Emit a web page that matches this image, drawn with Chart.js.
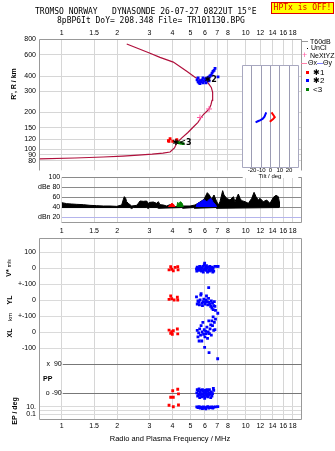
<html>
<head>
<script src="https://cdn.jsdelivr.net/npm/chart.js@4.4.0/dist/chart.umd.min.js"></script>
<style>
  body { margin: 0; background: #fff; width: 335px; height: 451px; overflow: hidden; position: relative;
         font-family: 'Liberation Sans', Arial, sans-serif; color: #000; }
  canvas { position: absolute; }
  .t { position: absolute; white-space: nowrap; line-height: 8px; font-size: 7px; }
  .mono { font-family: 'DejaVu Sans Mono', monospace; font-size: 8px; line-height: 9px; white-space: pre; }
  .rot { position: absolute; white-space: nowrap; transform: translate(-50%, -50%) rotate(-90deg); font-size: 7px; font-weight: bold; line-height: 8px; }
  .sw { position: absolute; }
</style>
</head>
<body>
<canvas id="heightChart" width="335" height="178" style="left:0;top:0"></canvas>
<canvas id="dbChart" width="335" height="70" style="left:0;top:170px"></canvas>
<canvas id="lowChart" width="335" height="221" style="left:0;top:230px"></canvas>
<canvas id="tiltChart" width="66" height="122" style="left:236px;top:60px"></canvas>

<div class="t mono" style="left:35px;top:7px">TROMSO NORWAY   DYNASONDE 26-07-27 0822UT 15°E</div>
<div class="t mono" style="left:57px;top:16px">8pBP6It DoY= 208.348 File= TR101130.BPG</div>
<div class="t mono" style="left:271px;top:2px;width:61px;height:10px;line-height:10px;background:#ffff00;border:1px solid #e00000;color:#e00000;text-align:center">HPTx is OFF!</div>

<!-- legend -->
<div class="sw" style="left:302px;top:41px;width:6px;height:1px;background:#999"></div>
<div class="t" style="left:310px;top:38px">T60dB</div>
<div class="sw" style="left:307px;top:48px;width:1px;height:1px;background:#000"></div>
<div class="t" style="left:311px;top:44px">UnCl</div>
<div class="t" style="left:302px;top:51px;color:#ff5aa0;font-size:9px">+</div>
<div class="t" style="left:310px;top:52px">NeXtYZ</div>
<div class="sw" style="left:301px;top:63px;width:6px;height:1px;background:#ff80a8"></div>
<div class="t" style="left:308px;top:59px">Θx</div>
<div class="sw" style="left:317px;top:63px;width:6px;height:1px;background:#8080ff"></div>
<div class="t" style="left:323px;top:59px">Θy</div>
<div class="sw" style="left:306px;top:71px;width:3px;height:3px;background:#ff0000"></div>
<div class="t" style="left:313px;top:69px;font-size:8px">✱1</div>
<div class="sw" style="left:306px;top:79px;width:3px;height:3px;background:#0000ff"></div>
<div class="t" style="left:313px;top:77px;font-size:8px">✱2</div>
<div class="sw" style="left:306px;top:88px;width:3px;height:3px;background:#008000"></div>
<div class="t" style="left:313px;top:86px;font-size:8px">&lt;3</div>

<!-- axis titles -->
<div class="rot" style="left:14px;top:84px">R', R / km</div>
<div class="rot" style="left:9px;top:268px">V* <span style="font-size:5px;font-weight:normal">m/s</span></div>
<div class="rot" style="left:9.5px;top:300px">YL</div>
<div class="rot" style="left:10px;top:317px;font-size:6px;font-weight:normal">km</div>
<div class="rot" style="left:9.5px;top:333px">XL</div>
<div class="t" style="left:43px;top:375px;font-weight:bold">PP</div>
<div class="rot" style="left:15px;top:411px">EP / deg</div>
<div class="t" style="left:270px;top:172px;font-size:6px;transform:translateX(-50%)">Tilt / deg</div>
<div class="t" style="left:170px;top:435px;font-size:7.5px;transform:translateX(-50%)">Radio and Plasma Frequency / MHz</div>

<script>
    // frequency axis (shared by all panels)
    var freqTicks = [1, 1.5, 2, 3, 4, 5, 6, 7, 8, 10, 12, 14, 16, 18];
    var freqTickLabels = ['1', '1.5', '2', '3', '4', '5', '6', '7', '8', '10', '12', '14', '16', '18'];

    // height panel
    var heightTicks = [80, 90, 100, 120, 150, 200, 300, 400, 600, 800];
    var profileFreq = [0.757, 1.18, 1.68, 2.15, 2.60, 3.10, 3.55, 3.88, 4.10, 4.22, 4.48, 4.85, 5.19, 5.50, 5.72, 5.90, 6.15, 6.35, 6.47, 6.56, 6.60, 6.62, 6.50, 6.25, 5.95, 5.64, 5.30, 4.78, 4.04, 3.42, 3.02, 2.256];
    var profileHeight = [82.9, 84.4, 86.0, 87.5, 89.1, 90.7, 92.5, 94.5, 102, 112, 123, 137, 152, 166, 182, 193, 205, 216, 232, 252, 269, 294, 322, 350, 362, 374, 391, 437, 521, 570, 616, 734];
    var markFreq = [6.32, 5.64];
    var markHeight = [214, 182];
    var blueEchoFreq = [5.44, 5.51, 5.58, 5.64, 5.72, 5.79, 5.86, 5.93, 6.01, 6.08, 6.16, 6.24, 6.32, 6.40, 6.48, 6.56, 6.64, 6.73, 6.81, 7.07, 5.51, 5.64, 5.86, 6.08, 6.32];
    var blueEchoHeight = [372, 359, 352, 365, 359, 372, 352, 365, 379, 372, 386, 379, 393, 400, 407, 422, 437, 445, 462, 393, 386, 346, 386, 352, 365];
    var redEchoFreq = [3.88, 3.80, 4.01, 4.22, 3.83];
    var redEchoHeight = [122, 117, 116, 119.5, 116];
    var greenEchoFreq = [4.29, 4.37, 4.45, 4.56];
    var greenEchoHeight = [113, 112.5, 112, 111];
    var echoLabelFreq = [5.97, 4.00];
    var echoLabelHeight = [369, 112.3];
    var echoLabelText = ['✱2', '✱<3'];

    // amplitude panel
    var dbTicks = [20, 40, 60, 80, 100];
    var dbTickLabels = ['dBn 20', '40', '60', 'dBe 80', '100'];
    var dbFreq = [1.00, 1.064, 1.133, 1.206, 1.311, 1.425, 1.549, 1.684, 1.830, 1.989, 2.118, 2.163, 2.190, 2.227, 2.254, 2.302, 2.400, 2.555, 2.609, 2.664, 2.777, 2.895, 2.956, 3.019, 3.148, 3.282, 3.351, 3.422, 3.567, 3.719, 3.877, 4.128, 4.583, 4.982, 5.303, 5.644, 5.933, 6.186, 6.343, 6.531, 6.725, 6.896, 7.100, 7.249, 7.495, 7.621, 7.880, 8.217, 8.567, 8.747, 9.120, 9.311, 9.509, 9.913, 10.34, 10.78, 11.10, 11.38, 11.71, 11.96, 12.46, 13.00, 13.55, 14.13, 14.61, 15.04, 15.23, 15.25];
    var dbTop = [49.3, 47.3, 46.6, 45.9, 45.3, 43.9, 43.3, 42.6, 42.6, 41.9, 44.6, 55.9, 61.3, 57.9, 51.3, 47.9, 42.6, 43.9, 47.9, 52.6, 51.9, 52.6, 47.9, 49.9, 50.6, 47.9, 51.3, 45.3, 44.6, 42.6, 45.3, 41.3, 42.6, 42.6, 44.6, 50.6, 55.9, 69.3, 64.6, 55.9, 64.6, 54.6, 44.6, 51.3, 73.3, 64.6, 57.9, 54.6, 61.3, 51.3, 66.6, 57.9, 53.3, 51.3, 47.9, 57.9, 69.9, 61.3, 54.6, 57.9, 51.3, 54.6, 47.9, 59.9, 63.9, 61.3, 51.3, 40.5];
    var dbLowFreq = [1.0, 2.35, 2.40, 2.45, 2.90, 2.95, 3.00, 3.30, 3.35, 4.50, 4.55, 5.20, 5.25, 6.90, 6.95, 15.25];
    var dbLow = [39.5, 39.5, 37.5, 39.5, 39.5, 37.5, 39.5, 39.5, 38, 39.5, 38, 39.5, 38, 39.5, 38, 39.5];
    var dbRedFreq = [3.80, 3.86, 3.92, 3.98, 4.05, 4.13];
    var dbRed = [41, 44, 46.6, 48, 46, 41];
    var dbGreenFreq = [4.22, 4.27, 4.33, 4.40, 4.47, 4.53, 4.58];
    var dbGreen = [41, 50, 46, 51, 50, 47, 41];
    var dbBlueFreq = [5.37, 5.45, 5.55, 5.65, 5.75, 5.85, 5.95, 6.05, 6.15, 6.25, 6.35, 6.45, 6.55, 6.65, 6.75, 6.85, 6.96];
    var dbBlue = [41, 47, 49, 50, 52, 54, 55, 53, 51, 54, 56, 58, 55, 50, 48, 45, 41];

    // lower panel (V*, YL, XL, PP, EP stacked on one scale)
    var lowTicks = [100, 0, -100, -200, -300, -400, -500, -867, -891, -915];
    var lowTickLabels = ['100', '0', '+-100', '0', '+-100', '0', '-100', '10.', '', '0.1'];
    var refLineValues = [-606, -783];
    var refLineLabels = ['x  90', 'o -90'];
    var redVFreq = [3.83, 3.91, 3.96, 4.04, 4.13, 4.27, 4.29];
    var redV = [-12, 8, -8, -17, 4, 8, -12];
    var redYFreq = [3.91, 3.83, 3.96, 4.08, 4.25, 4.27];
    var redY = [-175, -196, -192, -200, -183, -200];
    var redXFreq = [3.83, 3.96, 4.04, 4.25, 3.99, 4.27, 3.91];
    var redX = [-388, -398, -392, -381, -414, -412, -408];
    var redEFreq = [4.01, 4.27, 4.31, 3.91, 4.04, 3.83, 4.04, 4.31];
    var redE = [-767, -758, -787, -808, -808, -858, -867, -856];
    var blueVFreq = [5.40, 5.42, 5.45, 5.50, 5.55, 5.60, 5.62, 5.65, 5.70, 5.75, 5.80, 5.85, 5.88, 5.90, 5.95, 5.98, 6.00, 6.05, 6.10, 6.12, 6.15, 6.20, 6.25, 6.30, 6.35, 6.38, 6.40, 6.45, 6.50, 6.55, 6.60, 6.62, 6.65, 6.70, 6.80, 7.00, 7.08];
    var blueV = [-5, -20, 5, -10, 0, -15, 10, 5, -5, -20, 0, 10, -25, -10, 20, 30, -5, 5, -15, 15, 0, -25, 5, -10, -20, 10, 0, -5, -15, 5, -10, -25, 0, -20, 10, 10, 10];
    var blueYFreq = [5.40, 5.45, 5.50, 5.55, 5.60, 5.65, 5.70, 5.72, 5.78, 5.82, 5.88, 5.92, 5.98, 6.02, 6.08, 6.12, 6.18, 6.22, 6.28, 6.32, 6.29, 6.40, 6.45, 6.50, 6.55, 6.60, 6.65, 6.70, 6.75, 6.80, 6.85, 7.05];
    var blueY = [-180, -225, -205, -215, -230, -200, -170, -160, -220, -235, -210, -195, -215, -225, -200, -175, -210, -230, -190, -215, -123, -225, -240, -205, -250, -220, -260, -235, -210, -240, -265, -283];
    var blueXFreq = [5.45, 5.50, 5.55, 5.58, 5.62, 5.68, 5.72, 5.77, 5.80, 5.85, 5.90, 5.95, 5.98, 6.00, 6.05, 6.10, 6.15, 6.20, 6.25, 6.32, 6.30, 6.35, 6.40, 6.45, 6.50, 6.55, 6.60, 6.65, 6.70, 6.75, 6.80, 6.85, 7.04];
    var blueX = [-390, -430, -405, -456, -380, -420, -360, -456, -400, -340, -415, -385, -496, -430, -395, -410, -370, -440, -400, -529, -330, -410, -380, -355, -420, -330, -360, -305, -390, -340, -385, -320, -567];
    var blueEFreq = [5.42, 5.45, 5.48, 5.52, 5.55, 5.58, 5.62, 5.65, 5.68, 5.72, 5.75, 5.78, 5.82, 5.85, 5.88, 5.92, 5.95, 5.98, 6.02, 6.05, 6.08, 6.12, 6.15, 6.18, 6.22, 6.25, 6.28, 6.32, 6.35, 6.40, 6.45, 6.50, 6.55, 6.60, 6.70, 6.67,
                      5.42, 5.50, 5.58, 5.66, 5.74, 5.82, 5.90, 5.98, 6.06, 6.14, 6.22, 6.30, 6.38, 6.46, 6.54, 6.62, 6.70, 6.85, 7.05];
    var blueE = [-780, -760, -800, -770, -790, -755, -810, -775, -795, -765, -785, -805, -760, -790, -770, -800, -780, -815, -765, -790, -775, -800, -760, -785, -805, -770, -795, -780, -760, -790, -810, -775, -800, -785, -765, -752,
                 -868, -872, -866, -875, -870, -878, -868, -873, -880, -870, -866, -875, -870, -872, -868, -876, -870, -868, -866];

    // tilt inset
    var tiltTicks = [-20, -10, 0, 10, 20];
    var tiltBlueX = [-16.1, -13.7, -10.8, -8.3, -6.5, -4.6];
    var tiltBlueY = [44.2, 45.2, 46.4, 47.7, 49.7, 53.9];
    var tiltRedX = [1.1, 2.5, 4.6, 2.9, -0.75];
    var tiltRedY = [53.9, 52, 49.1, 47.4, 44.8];


    Chart.defaults.font.family = "'Liberation Sans', Arial, sans-serif";
    Chart.defaults.font.size = 7;
    Chart.defaults.color = '#000';
    Chart.defaults.animation = false;
    Chart.defaults.plugins.legend.display = false;
    Chart.defaults.plugins.tooltip.enabled = false;

    function pts(xs, ys) {
        return xs.map(function (x, i) { return { x: x, y: ys[i] }; });
    }

    function crisp(v) { return Math.round(v - 0.5) + 0.5; }

    // draws the panel borders
    var framePlugin = {
        id: 'frame',
        beforeDatasetsDraw: function (chart, args, opts) {
            var a = chart.chartArea, ctx = chart.ctx, s = opts.sides || '';
            var l = crisp(a.left), r = crisp(a.right), t = crisp(a.top), b = crisp(a.bottom);
            ctx.save();
            ctx.strokeStyle = opts.color || '#999';
            ctx.lineWidth = 1;
            ctx.beginPath();
            if (s.indexOf('l') >= 0) { ctx.moveTo(l, t); ctx.lineTo(l, b); }
            if (s.indexOf('r') >= 0) { ctx.moveTo(r, t); ctx.lineTo(r, b); }
            if (s.indexOf('t') >= 0) { ctx.moveTo(l, t); ctx.lineTo(r, t); }
            if (s.indexOf('b') >= 0) { ctx.moveTo(l, b); ctx.lineTo(r, b); }
            ctx.stroke();
            ctx.restore();
        }
    };

    var echoLabelPlugin = {
        id: 'echoLabels',
        afterDatasetsDraw: function (chart) {
            var ctx = chart.ctx, xs = chart.scales.x, ys = chart.scales.y;
            ctx.save();
            ctx.font = "bold 8px 'DejaVu Sans', sans-serif";
            ctx.fillStyle = '#000';
            ctx.textBaseline = 'middle';
            for (var i = 0; i < echoLabelText.length; i++) {
                ctx.fillText(echoLabelText[i], xs.getPixelForValue(echoLabelFreq[i]), ys.getPixelForValue(echoLabelHeight[i]));
            }
            ctx.restore();
        }
    };

    var refLinePlugin = {
        id: 'refLines',
        beforeDatasetsDraw: function (chart) {
            var ctx = chart.ctx, xs = chart.scales.x, ys = chart.scales.y;
            var x0 = xs.getPixelForValue(1.0);
            ctx.save();
            ctx.strokeStyle = '#777';
            ctx.lineWidth = 1;
            ctx.fillStyle = '#000';
            ctx.font = "7px 'Liberation Sans', Arial, sans-serif";
            ctx.textAlign = 'right';
            ctx.textBaseline = 'middle';
            for (var i = 0; i < refLineValues.length; i++) {
                var y = crisp(ys.getPixelForValue(refLineValues[i]));
                ctx.beginPath();
                ctx.moveTo(x0 + 1, y);
                ctx.lineTo(chart.chartArea.right, y);
                ctx.stroke();
                ctx.fillText(refLineLabels[i], x0, y);
            }
            ctx.restore();
        }
    };

    var whiteBackPlugin = {
        id: 'whiteBack',
        beforeDraw: function (chart) {
            var a = chart.chartArea, ctx = chart.ctx;
            ctx.save();
            ctx.fillStyle = '#fff';
            ctx.fillRect(a.left, a.top, a.right - a.left, chart.height - a.top - 4);
            ctx.restore();
        }
    };

    function freqAxis(min, position, padding, height) {
        return {
            type: 'logarithmic',
            position: position,
            min: min,
            max: 20.15,
            afterBuildTicks: function (s) { s.ticks = freqTicks.map(function (v) { return { value: v }; }); },
            afterFit: function (s) { s.height = height; },
            ticks: {
                callback: function (v, i) { return freqTickLabels[i]; },
                padding: padding, maxRotation: 0, autoSkip: false
            },
            grid: { color: '#d6d6d6', drawTicks: false },
            border: { display: false }
        };
    }

    function squares(data, color) {
        return {
            data: data, pointStyle: 'rect', pointRadius: 2, pointBorderWidth: 0,
            backgroundColor: color, borderColor: color, showLine: false
        };
    }

    function filledTrace(data, color) {
        return {
            data: data, showLine: true, pointRadius: 0, borderWidth: 1,
            borderColor: color, backgroundColor: color, fill: { value: 40.5 }, tension: 0
        };
    }

    // ---- height panel ----
    new Chart(document.getElementById('heightChart'), {
        type: 'scatter',
        data: {
            datasets: [
                { data: pts(markFreq, markHeight), pointStyle: 'cross', pointRadius: 3, borderColor: '#ff5aa0', borderWidth: 1 },
                squares(pts(blueEchoFreq, blueEchoHeight), '#0000ff'),
                squares(pts(greenEchoFreq, greenEchoHeight), '#008000'),
                squares(pts(redEchoFreq, redEchoHeight), '#ff0000'),
                { data: pts(profileFreq, profileHeight), showLine: true, pointRadius: 0, borderColor: '#b0103c', borderWidth: 1.2 }
            ]
        },
        options: {
            responsive: false,
            layout: { padding: { left: 0, right: 33.3, top: 0, bottom: 0.7 } },
            scales: {
                x: freqAxis(0.757, 'top', 2, 39.5),
                y: {
                    type: 'logarithmic', min: 66.8, max: 800,
                    afterBuildTicks: function (s) { s.ticks = heightTicks.map(function (v) { return { value: v }; }); },
                    afterFit: function (s) { s.width = 39.5; },
                    ticks: { callback: function (v, i) { return String(heightTicks[i]); }, padding: 3.5, autoSkip: false },
                    grid: { color: '#d6d6d6', drawTicks: false },
                    border: { display: false }
                }
            },
            plugins: { frame: { sides: 'ltr', color: '#999' } }
        },
        plugins: [framePlugin, echoLabelPlugin]
    });

    // ---- amplitude panel ----
    new Chart(document.getElementById('dbChart'), {
        type: 'scatter',
        data: {
            datasets: [
                filledTrace(pts(dbRedFreq, dbRed), '#ff0000'),
                filledTrace(pts(dbGreenFreq, dbGreen), '#008000'),
                filledTrace(pts(dbBlueFreq, dbBlue), '#0000ff'),
                filledTrace(pts(dbLowFreq, dbLow), '#000'),
                filledTrace(pts(dbFreq, dbTop), '#000')
            ]
        },
        options: {
            responsive: false,
            layout: { padding: { left: 0, right: 33.3, top: 7.3, bottom: 0 } },
            scales: {
                x: freqAxis(1.0, 'bottom', 4.5, 17.7),
                y: {
                    type: 'linear', min: 10, max: 100,
                    afterBuildTicks: function (s) { s.ticks = dbTicks.map(function (v) { return { value: v }; }); },
                    afterFit: function (s) { s.width = 61.7; },
                    ticks: { callback: function (v, i) { return dbTickLabels[i]; }, padding: 1.5, autoSkip: false },
                    grid: {
                        color: function (c) { return c.tick && c.tick.value === 20 ? '#b4b4ec' : '#8a8a8a'; },
                        drawTicks: false
                    },
                    border: { display: false }
                }
            },
            plugins: { frame: { sides: 'rb', color: '#999' } }
        },
        plugins: [framePlugin]
    });

    // ---- drift / position / polarisation panel ----
    new Chart(document.getElementById('lowChart'), {
        type: 'scatter',
        data: {
            datasets: [
                squares(pts(redVFreq, redV), '#ff0000'),
                squares(pts(redYFreq, redY), '#ff0000'),
                squares(pts(redXFreq, redX), '#ff0000'),
                squares(pts(redEFreq, redE), '#ff0000'),
                squares(pts(blueVFreq, blueV), '#0000ff'),
                squares(pts(blueYFreq, blueY), '#0000ff'),
                squares(pts(blueXFreq, blueX), '#0000ff'),
                squares(pts(blueEFreq, blueE), '#0000ff')
            ]
        },
        options: {
            responsive: false,
            layout: { padding: { left: 0, right: 33.3, top: 8.5, bottom: 0 } },
            scales: {
                x: freqAxis(0.757, 'bottom', 2.5, 31.7),
                y: {
                    type: 'linear', min: -945.6, max: 184.4,
                    afterBuildTicks: function (s) { s.ticks = lowTicks.map(function (v) { return { value: v }; }); },
                    afterFit: function (s) { s.width = 39.5; },
                    ticks: { callback: function (v, i) { return lowTickLabels[i]; }, padding: 3.5, autoSkip: false },
                    grid: { color: '#dadada', drawTicks: false },
                    border: { display: false }
                }
            },
            plugins: { frame: { sides: 'ltrb', color: '#999' } }
        },
        plugins: [framePlugin, refLinePlugin]
    });

    // ---- tilt inset ----
    new Chart(document.getElementById('tiltChart'), {
        type: 'scatter',
        data: {
            datasets: [
                { data: pts(tiltRedX, tiltRedY), showLine: true, pointRadius: 0, borderColor: '#ff0000', borderWidth: 2 },
                { data: pts(tiltBlueX, tiltBlueY), showLine: true, pointRadius: 0, borderColor: '#0000ff', borderWidth: 2 }
            ]
        },
        options: {
            responsive: false,
            layout: { padding: { left: 6.7, right: 3.7, top: 5, bottom: 0 } },
            scales: {
                x: {
                    type: 'linear', min: -30, max: 30,
                    afterBuildTicks: function (s) { s.ticks = tiltTicks.map(function (v) { return { value: v }; }); },
                    afterFit: function (s) { s.height = 14.3; },
                    ticks: { callback: function (v) { return String(v); }, padding: 0, maxRotation: 0, autoSkip: false, font: { size: 6, lineHeight: 1 } },
                    grid: { color: '#9c9cb4', drawTicks: false },
                    border: { display: false }
                },
                y: { type: 'linear', min: 0, max: 100, display: false }
            },
            plugins: { frame: { sides: 'ltrb', color: '#a8a8c0' } }
        },
        plugins: [whiteBackPlugin, framePlugin]
    });
</script>
</body>
</html>
